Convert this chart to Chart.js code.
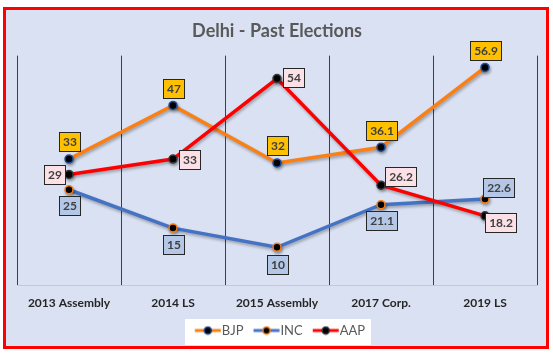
<!DOCTYPE html>
<html><head><meta charset="utf-8">
<script src="https://cdn.jsdelivr.net/npm/chart.js@4.4.1/dist/chart.umd.min.js"></script>
<style>html,body{margin:0;padding:0;background:#fff;overflow:hidden}canvas{display:block}</style>
</head><body><canvas id="c" width="553" height="356"></canvas>
<script>
// ---- data ----
const categories = ['2013 Assembly', '2014 LS', '2015 Assembly', '2017 Corp.', '2019 LS'];
const seriesNames = ['BJP', 'INC', 'AAP'];
const bjpValues = [33, 47, 32, 36.1, 56.9];
const incValues = [25, 15, 10, 21.1, 22.6];
const aapValues = [29, 33, 54, 26.2, 18.2];
const chartTitle = 'Delhi - Past Elections';

const FONT = 'Lato, "Open Sans", sans-serif';

// label box offsets (relative to point, box centre)
const labelOffsets = [
  [[0,-18],[0,-17],[0,-17],[0,-17],[0,-17]],
  [[0,16],[0,16],[0,17],[0,16],[13,-11]],
  [[-15,0],[16,0],[16,-1],[19.5,-9],[15,7]]
];
const labelFills = ['#FFC000', '#B4C7E7', '#FBE1E6'];

function legendIcon(lineColor, dotBorder) {
  const c = document.createElement('canvas');
  c.width = 40; c.height = 10;
  const g = c.getContext('2d');
  const a = 12.75;
  g.strokeStyle = lineColor; g.lineWidth = 3;
  g.beginPath(); g.moveTo(a, 5); g.lineTo(a + 26, 5); g.stroke();
  g.beginPath(); g.arc(a + 13, 5, 3.6, 0, Math.PI * 2);
  g.fillStyle = '#000'; g.fill();
  g.lineWidth = 1.5; g.strokeStyle = dotBorder; g.stroke();
  return c;
}

const lineColors = ['#FA7F14', '#4472C4', '#FF0000'];
const dotBorders = ['#1F4E9A', '#FA7F14', '#3A3A3A'];
const icons = lineColors.map((c, i) => legendIcon(c, dotBorders[i]));

const bgPlugin = {
  id: 'bg',
  beforeDraw(chart) {
    const ctx = chart.ctx;
    ctx.save();
    ctx.fillStyle = '#fff';
    ctx.fillRect(0, 0, chart.width, chart.height);
    ctx.fillStyle = '#D9E1F2';
    ctx.fillRect(4, 8, 544, 340);
    ctx.strokeStyle = '#FF0000';
    ctx.lineWidth = 3;
    ctx.strokeRect(4.5, 8.5, 543, 339);
    // legend white box
    const hb = chart.legend.legendHitBoxes;
    if (hb && hb.length) {
      const l = Math.min(...hb.map(h => h.left)) - 4;
      const r = Math.max(...hb.map(h => h.left + h.width)) + 6;
      const t = hb[0].top - 5;
      const b = hb[0].top + hb[0].height + 8;
      ctx.fillStyle = '#fff';
      ctx.fillRect(Math.round(l), Math.round(t), Math.round(r - l), Math.round(b - t));
    }
    ctx.restore();
  }
};

const shadowPlugin = {
  id: 'shadow',
  beforeDatasetDraw(chart) {
    const ctx = chart.ctx;
    ctx.save();
    ctx.shadowColor = 'rgba(0,0,0,0.3)';
    ctx.shadowBlur = 3;
    ctx.shadowOffsetX = 1;
    ctx.shadowOffsetY = 2;
  },
  afterDatasetDraw(chart) { chart.ctx.restore(); }
};

const boxLabelPlugin = {
  id: 'boxLabels',
  afterDatasetsDraw(chart) {
    const ctx = chart.ctx;
    ctx.save();
    ctx.font = 'bold 12px ' + FONT;
    ctx.textAlign = 'center';
    ctx.textBaseline = 'middle';
    chart.data.datasets.forEach((ds, di) => {
      const meta = chart.getDatasetMeta(di);
      meta.data.forEach((pt, i) => {
        const txt = String(ds.data[i]);
        const w = Math.round(ctx.measureText(txt).width) + 7;
        const h = 19;
        const [dx, dy] = labelOffsets[di][i];
        const cx = pt.x + dx, cy = pt.y + dy;
        const x0 = Math.round(cx - w / 2) + 0.5, y0 = Math.round(cy - h / 2) + 0.5;
        ctx.fillStyle = labelFills[di];
        ctx.fillRect(x0, y0, w, h);
        ctx.strokeStyle = '#262626';
        ctx.lineWidth = 1;
        ctx.strokeRect(x0, y0, w, h);
        ctx.fillStyle = '#404040';
        ctx.fillText(txt, x0 + w / 2, y0 + h / 2 + 0.5);
      });
    });
    ctx.restore();
  }
};

const seriesValues = [bjpValues, incValues, aapValues];
const datasets = seriesNames.map((name, i) => ({
  label: name,
  data: seriesValues[i],
  borderColor: lineColors[i],
  backgroundColor: lineColors[i],
  borderWidth: 3.5,
  pointRadius: 4,
  pointHoverRadius: 4,
  pointBackgroundColor: '#000',
  pointBorderColor: dotBorders[i],
  pointBorderWidth: 1.5,
  tension: 0,
  order: i === 2 ? 0 : i + 1
}));

new Chart(document.getElementById('c'), {
  type: 'line',
  data: { labels: categories, datasets },
  options: {
    responsive: false,
    animation: false,
    layout: { padding: { left: 17, right: 16, top: 0, bottom: 9 } },
    scales: {
      x: {
        offset: true,
        grid: { offset: true, color: '#3F3F3F', lineWidth: 1, drawTicks: false },
        border: { display: true, color: '#C8C8C8' },
        ticks: { color: '#262626', font: { family: FONT, size: 12, weight: 'bold' }, padding: 10 }
      },
      y: { display: false, min: 0, max: 60 }
    },
    plugins: {
      title: {
        display: true, text: chartTitle, color: '#595959',
        font: { family: FONT, size: 18, weight: 'bold' },
        padding: { top: 20, bottom: 14 }
      },
      legend: {
        position: 'bottom',
        labels: {
          color: '#595959',
          font: { family: FONT, size: 13 },
          usePointStyle: true,
          pointStyleWidth: 26.5,
          padding: 4,
          sort: (a, b) => a.datasetIndex - b.datasetIndex,
          generateLabels(chart) {
            const items = Chart.defaults.plugins.legend.labels.generateLabels(chart);
            items.forEach(it => { it.pointStyle = icons[it.datasetIndex]; it.fontColor = '#595959'; });
            return items;
          }
        }
      },
      tooltip: { enabled: false }
    }
  },
  plugins: [bgPlugin, shadowPlugin, boxLabelPlugin]
});
</script>
</body></html>
